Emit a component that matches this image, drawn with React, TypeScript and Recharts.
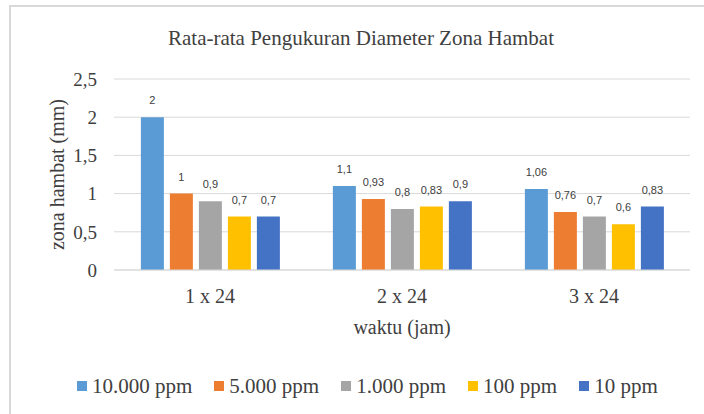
import { Bar, BarChart, CartesianGrid, LabelList, XAxis, YAxis } from "recharts";

const categories = ["1 x 24", "2 x 24", "3 x 24"];
const series = ["10.000 ppm", "5.000 ppm", "1.000 ppm", "100 ppm", "10 ppm"];
const v10000 = [2, 1.1, 1.06];
const v5000 = [1, 0.93, 0.76];
const v1000 = [0.9, 0.8, 0.7];
const v100 = [0.7, 0.83, 0.6];
const v10 = [0.7, 0.9, 0.83];
const yTicks = [0, 0.5, 1, 1.5, 2, 2.5];

const COLORS = ["#5b9bd5", "#ed7d31", "#a5a5a5", "#ffc000", "#4472c4"];
const SERIF = "'Liberation Serif', 'DejaVu Serif', serif";
const SANS = "'Liberation Sans', 'DejaVu Sans', sans-serif";
const TEXT = "#404040";

const columns = [v10000, v5000, v1000, v100, v10];
const data = categories.map((c, i) => {
  const row: Record<string, string | number> = { cat: c };
  series.forEach((s, j) => (row[s] = columns[j][i]));
  return row;
});

const comma = (v: unknown) => String(v).replace(".", ",");

// y axis title, placed left of the tick labels
function YTitle(props: any) {
  const vb = props.viewBox || {};
  const cy = (vb.y ?? 0) + (vb.height ?? 0) / 2;
  const cx = 57;
  return (
    <text
      x={cx}
      y={cy}
      transform={`rotate(-90 ${cx} ${cy})`}
      textAnchor="middle"
      dominantBaseline="central"
      style={{ fontSize: 20, fontFamily: SERIF, fill: TEXT }}
    >
      zona hambat (mm)
    </text>
  );
}

export default function App() {
  return (
    <div style={{ position: "absolute", left: 0, top: 0, width: 704, height: 414, background: "#fff", overflow: "hidden" }}>
      <div
        style={{
          position: "absolute",
          left: 9,
          top: 5,
          width: 720,
          height: 440,
          border: "2px solid #d9d9d9",
          boxSizing: "border-box",
        }}
      />
      <div
        style={{
          position: "absolute",
          left: 9,
          width: 704,
          top: 26,
          textAlign: "center",
          fontFamily: SERIF,
          fontSize: 21,
          color: TEXT,
        }}
      >
        Rata-rata Pengukuran Diameter Zona Hambat
      </div>
      <div style={{ position: "absolute", left: 0, top: 0 }}>
        <BarChart
          width={704}
          height={414}
          data={data}
          margin={{ top: 79, right: 14, bottom: 74, left: 0 }}
          barCategoryGap="14%"
          barGap={6}
        >
          <CartesianGrid vertical={false} stroke="#d9d9d9" />
          <XAxis
            dataKey="cat"
            tickLine={false}
            axisLine={{ stroke: "#d9d9d9" }}
            tick={{ fontSize: 20, fontFamily: SERIF, fill: TEXT }}
            tickMargin={13}
            height={70}
            interval={0}
            label={{
              value: "waktu (jam)",
              position: "insideBottom",
              offset: 6,
              style: { fontSize: 20, fontFamily: SERIF, fill: TEXT },
            }}
          />
          <YAxis
            width={114}
            domain={[0, 2.5]}
            ticks={yTicks}
            interval={0}
            tickLine={false}
            axisLine={false}
            tickFormatter={comma}
            tick={{ fontSize: 19, fontFamily: SERIF, fill: TEXT }}
            tickMargin={11}
            label={<YTitle />}
          />
          {series.map((s, i) => (
            <Bar key={s} dataKey={s} fill={COLORS[i]} isAnimationActive={false}>
              <LabelList
                dataKey={s}
                position="top"
                offset={13}
                formatter={comma}
                style={{ fontSize: 11, fontFamily: SANS, fill: TEXT }}
              />
            </Bar>
          ))}
        </BarChart>
      </div>
      <div
        style={{
          position: "absolute",
          left: 77,
          top: 373,
          display: "flex",
          gap: 22,
          fontFamily: SERIF,
          fontSize: 21,
          lineHeight: "26px",
          color: TEXT,
          whiteSpace: "nowrap",
        }}
      >
        {series.map((s, i) => (
          <span key={s} style={{ display: "inline-flex", alignItems: "center", gap: 5 }}>
            <span style={{ width: 10, height: 10, background: COLORS[i], display: "inline-block" }} />
            {s}
          </span>
        ))}
      </div>
    </div>
  );
}
